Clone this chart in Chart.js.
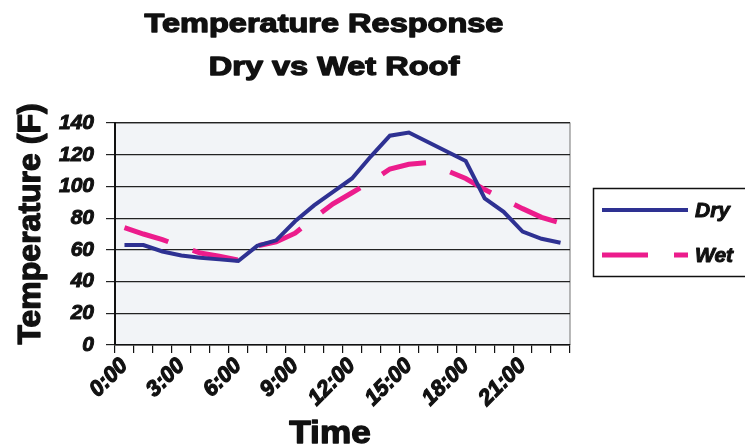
<!DOCTYPE html>
<html>
<head>
<meta charset="utf-8">
<script src="https://cdn.jsdelivr.net/npm/chart.js@4"></script>
<style>
  html, body { margin: 0; padding: 0; background: #fff; }
  #wrap { width: 745px; height: 448px; }
</style>
</head>
<body>
<div id="wrap"><canvas id="chart" width="745" height="448"></canvas></div>
<script>
// Data
const hours = ['0:00', '1:00', '2:00', '3:00', '4:00', '5:00', '6:00', '7:00', '8:00', '9:00', '10:00', '11:00',
  '12:00', '13:00', '14:00', '15:00', '16:00', '17:00', '18:00', '19:00', '20:00', '21:00', '22:00', '23:00'];
const dryTemps = [63, 63, 59, 56.5, 55, 54, 53, 62.5, 66, 78, 88, 96.5, 105, 119, 132, 134, 128, 122, 116, 92.5, 84, 71.5, 67, 64.5];
const wetTemps = [74, 70, 66.5, 62, 58, 56, 53.5, 62.5, 65, 70.5, 80, 89, 96, 103, 111, 114, 115, 110, 105, 98, 92, 86, 80.5, 77];
const seriesNames = ['Dry', 'Wet'];
const yTicks = [0, 20, 40, 60, 80, 100, 120, 140];

const FONT = "'Liberation Sans', Arial, sans-serif";
const INK = '#111';
const DRY_COLOR = '#2e3192';
const WET_COLOR = '#ec1c8c';

// plot background + gray frame on top/right
const plotBg = {
  id: 'plotBg',
  beforeDraw(chart) {
    const { ctx, chartArea: a } = chart;
    ctx.save();
    ctx.fillStyle = '#f2f4f7';
    ctx.fillRect(a.left, a.top, a.right - a.left, a.bottom - a.top);
    ctx.strokeStyle = '#8a8a8a';
    ctx.lineWidth = 1.2;
    ctx.beginPath();
    ctx.moveTo(a.left, a.top);
    ctx.lineTo(a.right, a.top);
    ctx.lineTo(a.right, a.bottom);
    ctx.stroke();
    ctx.restore();
  }
};

// heavy text: fill + thin stroke in the same colour
function heavyText(ctx, text, x, y, stroke) {
  ctx.fillText(text, x, y);
  ctx.lineWidth = stroke;
  ctx.strokeStyle = INK;
  ctx.lineJoin = 'round';
  ctx.strokeText(text, x, y);
}

// titles (chart and axes)
const titles = {
  id: 'titles',
  afterDraw(chart) {
    const ctx = chart.ctx;
    ctx.save();
    ctx.fillStyle = INK;
    ctx.textAlign = 'center';
    ctx.textBaseline = 'alphabetic';

    const stretched = (text, x, y, font, sx) => {
      ctx.save();
      ctx.font = font;
      ctx.translate(x, y);
      ctx.scale(sx, 1);
      heavyText(ctx, text, 0, 0, 1.3);
      ctx.restore();
    };
    stretched('Temperature Response', 324, 32, 'bold 26px ' + FONT, 1.25);
    stretched('Dry vs Wet Roof', 334, 75, 'bold 26px ' + FONT, 1.25);
    stretched('Time', 330, 443, 'bold 32px ' + FONT, 1.1);

    ctx.save();
    ctx.font = 'bold 32px ' + FONT;
    ctx.translate(40, 224);
    ctx.rotate(-Math.PI / 2);
    heavyText(ctx, 'Temperature (F)', 0, 0, 1.3);
    ctx.restore();
    ctx.restore();
  }
};

// legend box on the right
const sideLegend = {
  id: 'sideLegend',
  afterDraw(chart) {
    const ctx = chart.ctx;
    ctx.save();
    ctx.strokeStyle = INK;
    ctx.lineWidth = 1.5;
    ctx.strokeRect(593.5, 188.5, 160, 88);
    const rows = [210, 255];
    chart.data.datasets.forEach((ds, i) => {
      const y = rows[i];
      ctx.strokeStyle = ds.borderColor;
      ctx.lineWidth = ds.borderWidth;
      ctx.setLineDash(ds.borderDash || []);
      ctx.beginPath();
      ctx.moveTo(602, y);
      ctx.lineTo(688, y);
      ctx.stroke();
      ctx.setLineDash([]);
      ctx.fillStyle = INK;
      ctx.font = 'bold italic 21px ' + FONT;
      ctx.textAlign = 'left';
      ctx.textBaseline = 'middle';
      heavyText(ctx, ds.label, 695, y + 1, 1);
    });
    ctx.restore();
  }
};

new Chart(document.getElementById('chart'), {
  type: 'line',
  data: {
    labels: hours,
    datasets: [
      {
        label: seriesNames[0],
        data: dryTemps,
        borderColor: DRY_COLOR,
        borderWidth: 4,
        pointRadius: 0,
        tension: 0,
        fill: false
      },
      {
        label: seriesNames[1],
        data: wetTemps,
        borderColor: WET_COLOR,
        borderWidth: 5,
        borderDash: [46, 26],
        pointRadius: 0,
        tension: 0,
        fill: false
      }
    ]
  },
  options: {
    responsive: false,
    animation: false,
    devicePixelRatio: 1,
    layout: { padding: { top: 123, right: 175, left: 0, bottom: 0 } },
    plugins: {
      legend: { display: false },
      title: { display: false },
      tooltip: { enabled: false }
    },
    scales: {
      x: {
        type: 'category',
        offset: true,
        afterFit(scale) { scale.height = 103; },
        grid: {
          offset: true,
          drawOnChartArea: false,
          drawTicks: true,
          tickLength: 8,
          color: INK,
          lineWidth: 1.2
        },
        border: { color: INK, width: 1.5 },
        ticks: {
          autoSkip: false,
          minRotation: 45,
          maxRotation: 45,
          padding: 0,
          color: INK,
          textStrokeColor: INK,
          textStrokeWidth: 1.2,
          font: { family: FONT, size: 22, weight: 'bold', style: 'italic' },
          callback(value, index) {
            return index % 3 === 0 ? hours[index] : '';
          }
        }
      },
      y: {
        min: 0,
        max: 140,
        afterFit(scale) { scale.width = 115; },
        afterBuildTicks(scale) {
          scale.ticks = yTicks.map(v => ({ value: v }));
        },
        grid: {
          color: '#222',
          lineWidth: 1.2,
          drawTicks: true,
          tickLength: 9
        },
        border: { color: INK, width: 2 },
        ticks: {
          padding: 12,
          color: INK,
          textStrokeColor: INK,
          textStrokeWidth: 1,
          font: { family: FONT, size: 21, weight: 'bold', style: 'italic' }
        }
      }
    }
  },
  plugins: [plotBg, titles, sideLegend]
});
</script>
</body>
</html>
